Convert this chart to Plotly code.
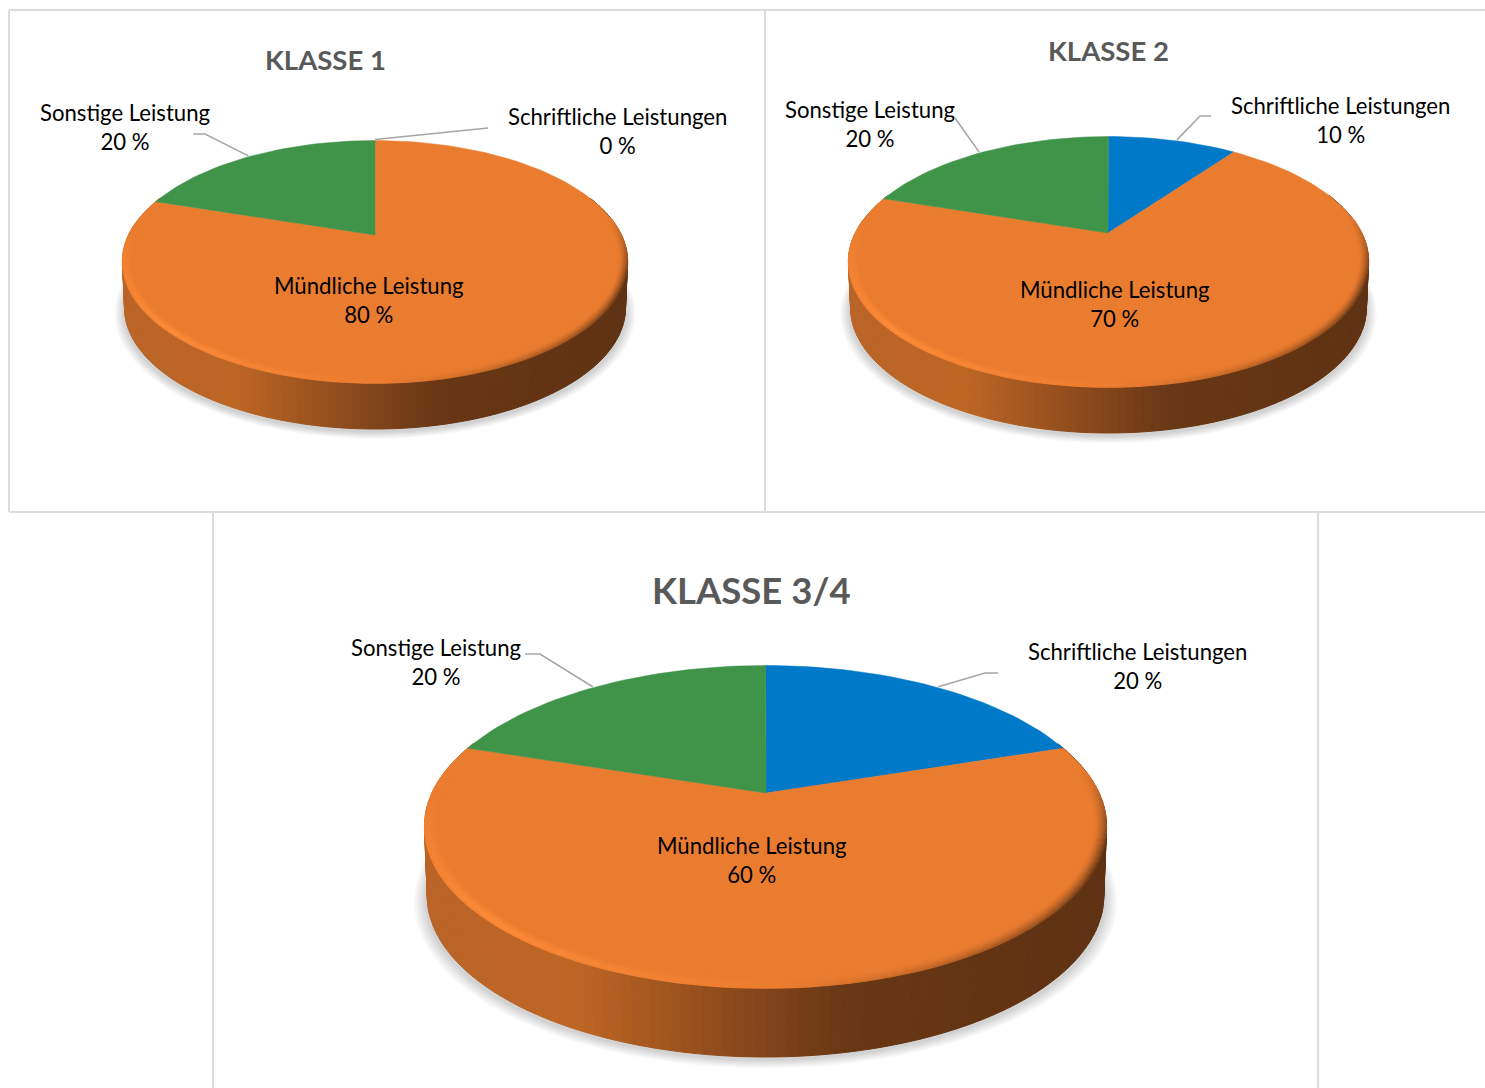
import math
import plotly.graph_objects as go

# ---- data ----
categories = ["Schriftliche Leistungen", "Mündliche Leistung", "Sonstige Leistung"]
titles = ["KLASSE 1", "KLASSE 2", "KLASSE 3/4"]
values_klasse1 = [0, 80, 20]
values_klasse2 = [10, 70, 20]
values_klasse34 = [20, 60, 20]

# ---- styles ----
slice_colors = ["#0079C9", "#EA7C30", "#40944A"]
FACE = (234, 124, 48)
HIGHLIGHT = (255, 140, 56)
DARK = (104, 56, 22)
BORDER = "#DCDCDC"
LEADER = "#A6A6A6"
FONT = "Lato"
WALL_STOPS = [(0.0, (186, 100, 40)), (0.22, (190, 102, 36)), (0.45, (140, 74, 28)),
              (0.62, (104, 55, 21)), (1.0, (94, 50, 19))]

# ---- layout of each pie: outline extents, apex, wall depth, label positions ----
pies = [
    dict(values=values_klasse1, title=titles[0], title_pos=(325, 59), title_size=27.5,
         apex=(375, 235), top=140.5, bottom=383, left=122.5, right=627.5, depth=46,
         label_pos=[(617.5, 130.8), (369, 299.8), (125, 126.8)], label_size=22.15,
         elbows=[[(470, 129.5), (488, 128)], None, [(205, 134), (193, 134)]]),
    dict(values=values_klasse2, title=titles[1], title_pos=(1108, 50), title_size=27.5,
         apex=(1108, 233), top=136.5, bottom=387, left=848.5, right=1368.5, depth=46,
         label_pos=[(1340, 119.8), (1115, 303.8), (870, 123.8)], label_size=22.15,
         elbows=[[(1200, 116), (1211, 116)], None, [(955, 118), (955, 118)]]),
    dict(values=values_klasse34, title=titles[2], title_pos=(751, 590), title_size=36.5,
         apex=(766, 793), top=665.5, bottom=988, left=424.5, right=1106.5, depth=69,
         label_pos=[(1137, 665.8), (752, 859.8), (436, 661.8)], label_size=22.15,
         elbows=[[(985, 673), (998, 673)], None, [(540, 654), (525, 654)]]),
]
border_segments = [
    (9, 10, 1485, 10), (9, 10, 9, 512), (765, 10, 765, 512), (9, 512, 1485, 512),
    (213, 512, 213, 1088), (1318, 512, 1318, 1088),
]


def mix(c1, c2, t):
    return tuple(c1[i] + (c2[i] - c1[i]) * t for i in range(3))


def rgb(c):
    return "rgb(%d,%d,%d)" % tuple(round(v) for v in c)


def wall_color(t):
    for (a, ca), (b, cb) in zip(WALL_STOPS, WALL_STOPS[1:]):
        if t <= b:
            return mix(ca, cb, (t - a) / (b - a))
    return WALL_STOPS[-1][1]


def projector(pie):
    """Perspective mapping from the unit disc to the page, fixed by the outline extents."""
    ax, ay = pie["apex"]
    up = ay - pie["top"]
    down = pie["bottom"] - ay
    p = (down - up) / (down + up)
    B = up * (1 + p)
    half = (pie["right"] - pie["left"]) / 2
    A = half * math.sqrt(1 - p * p)
    cx = (pie["right"] + pie["left"]) / 2

    def P(deg, r=1.0, dy=0.0, sx=1.0):
        th = math.radians(deg)
        u, v = r * math.sin(th), r * math.cos(th)
        w = 1 + p * v
        return cx + sx * A * u / w, ay - B * v / w + dy
    return P


fig = go.Figure()


def poly(pts, fill, line=None, width=1):
    fig.add_trace(go.Scatter(
        x=[q[0] for q in pts] + [pts[0][0]], y=[q[1] for q in pts] + [pts[0][1]],
        mode="lines", fill="toself", fillcolor=fill,
        line=dict(color=line or "rgba(0,0,0,0)", width=width if line else 0),
        hoverinfo="skip", showlegend=False))


annotations = []
for pie in pies:
    P = projector(pie)
    h = pie["depth"]
    vals = pie["values"]
    total = sum(vals)

    # soft shadow below the disc
    for i in range(9):
        r = 1.03 - i * 0.004
        poly([P(d, r, h + 4) for d in range(0, 360, 3)], "rgba(60,60,60,0.024)")

    # side wall, shaded left to right
    n = 150
    d0, d1 = 70.0, 290.0
    for i in range(n):
        a, b = d0 + (d1 - d0) * i / n, d0 + (d1 - d0) * (i + 1) / n
        xm = (P(a)[0] + P(b)[0]) / 2
        t = min(1, max(0, (xm - pie["left"]) / (pie["right"] - pie["left"])))
        c = rgb(wall_color(t))
        poly([P(a), P(b), P(b, 1, h, 0.992), P(a, 1, h, 0.992)], c, c, 1)

    # top face slices, clockwise from twelve o'clock
    start = 0.0
    spans = []
    for val, col in zip(vals, slice_colors):
        sweep = 360.0 * val / total
        spans.append((start, sweep))
        if val > 0:
            steps = max(2, int(sweep / 2))
            rim = [P(start + sweep * k / steps) for k in range(steps + 1)]
            poly([pie["apex"]] + rim, col, col, 0.5)
        start += sweep

    # bevel along the orange rim: soft shadow on the right, light on the lower left
    groups = {}
    n_rings = 9
    for k in range(n_rings):
        x = k / (n_rings - 1)          # 0 = outer edge, 1 = inner edge
        r = 0.999 - 0.036 * x
        w_dark = (1 - x) ** 1.5
        w_light = max(0, 1 - abs(x - 0.3) / 0.7)
        step = 2
        d = 82
        while d < 276:
            mid = d + step / 2
            if mid < 178:
                f = min(1, (mid - 80) / 30) * min(1, (178 - mid) / 60)
                col = mix(FACE, DARK, round(f * w_dark * 0.95, 2))
            else:
                f = max(0, 1 - abs(mid - 225) / 50)
                col = mix(FACE, HIGHLIGHT, round(f * w_light, 2))
            key = rgb(col)
            xs, ys = groups.setdefault((k, key), ([], []))
            x1, y1 = P(d, r)
            x2, y2 = P(d + step, r)
            xs += [x1, x2, None]
            ys += [y1, y2, None]
            d += step
    for (k, key), (xs, ys) in groups.items():
        fig.add_trace(go.Scatter(x=xs, y=ys, mode="lines", line=dict(color=key, width=2),
                                 hoverinfo="skip", showlegend=False))

    # leader lines from the slice middle to the label
    for (st, sw), elbow in zip(spans, pie["elbows"]):
        if elbow is None:
            continue
        mid = st + sw / 2
        if 0 < mid < 180:
            mid += 1.2
        elif mid >= 180:
            mid -= 1.2
        end = P(mid, 1.0, -1)
        fig.add_trace(go.Scatter(
            x=[end[0]] + [q[0] for q in elbow], y=[end[1]] + [q[1] for q in elbow],
            mode="lines", line=dict(color=LEADER, width=1.6),
            hoverinfo="skip", showlegend=False))

    # texts
    annotations.append(dict(x=pie["title_pos"][0], y=pie["title_pos"][1], text="<b>%s</b>" % pie["title"],
                            showarrow=False, xanchor="center", yanchor="middle",
                            font=dict(family=FONT, size=pie["title_size"], color="#595959")))
    for cat, val, pos in zip(categories, vals, pie["label_pos"]):
        annotations.append(dict(x=pos[0], y=pos[1], text="%s<br>%d %%" % (cat, val),
                                showarrow=False, xanchor="center", yanchor="middle", align="center",
                                font=dict(family=FONT, size=pie["label_size"], color="#000000")))

shapes = [dict(type="line", x0=a, y0=b, x1=c, y1=d, line=dict(color=BORDER, width=2), layer="below")
          for a, b, c, d in border_segments]

fig.update_layout(
    width=1485, height=1088, autosize=False,
    margin=dict(l=0, r=0, t=0, b=0, pad=0),
    paper_bgcolor="white", plot_bgcolor="white", showlegend=False,
    xaxis=dict(range=[0, 1485], visible=False, fixedrange=True),
    yaxis=dict(range=[1088, 0], visible=False, fixedrange=True),
    shapes=shapes, annotations=annotations,
)
fig.write_html("out.html", post_script="document.body.style.margin='0';",
               config=dict(displayModeBar=False))
